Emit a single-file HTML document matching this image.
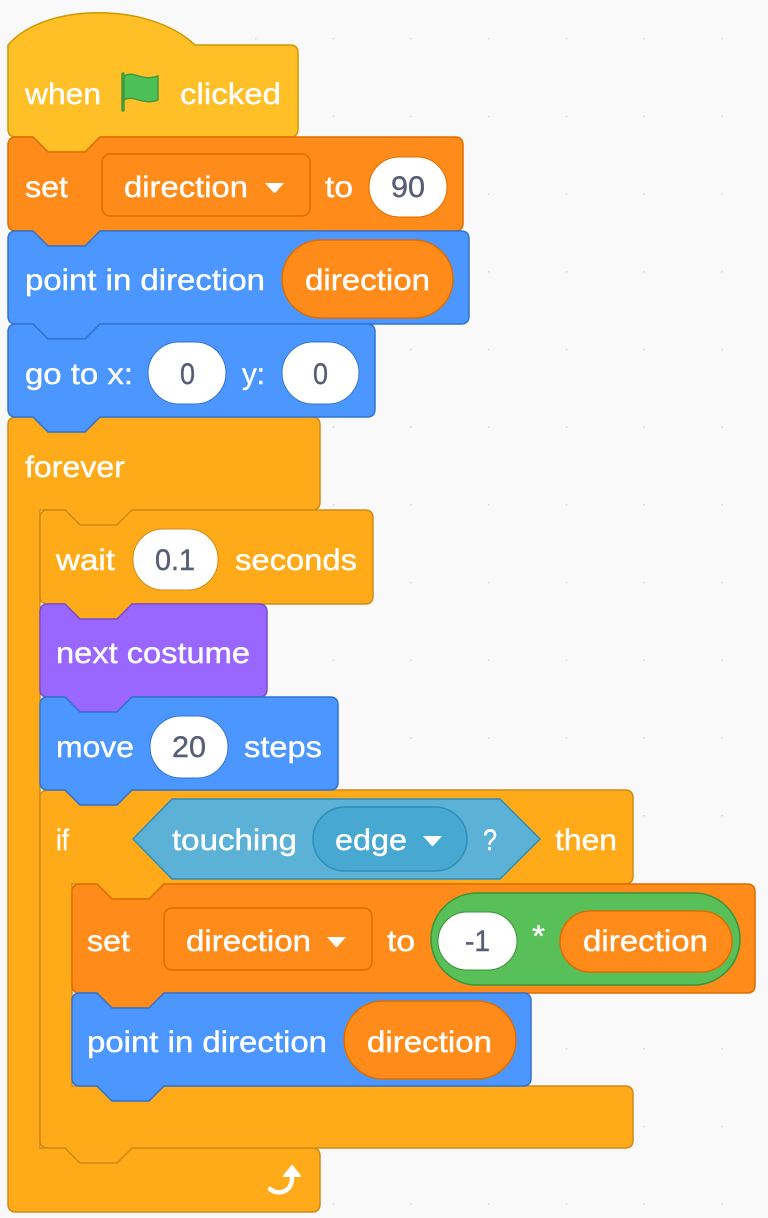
<!DOCTYPE html>
<html><head><meta charset="utf-8"><style>
html,body{margin:0;padding:0;background:#f9f9f9;}
svg{display:block}
text{font-family:"Liberation Sans",Arial,sans-serif;font-size:30px;fill:#fff;stroke:#fff;stroke-width:0.4;}
.d{fill:#575E75;stroke:#575E75}
</style></head><body>
<svg width="768" height="1218" viewBox="0 0 768 1218" xmlns="http://www.w3.org/2000/svg">
<defs>
<pattern id="dots" x="0" y="0" width="77.7" height="77.7" patternUnits="userSpaceOnUse" patternTransform="translate(255,38)">
<circle cx="0" cy="0" r="1.6" fill="#d6d6d6"/></pattern>
</defs>
<rect width="768" height="1218" fill="#f9f9f9"/>
<rect width="768" height="1218" fill="url(#dots)"/>

<!-- forever C -->
<path d="M8,425 Q8,417 16,417 L33,417 L48,432 L85,432 L100,417 L312,417 Q320,417 320,425 L320,502 Q320,510 312,510 L132,510 L117,525 L80,525 L65,510 L40,510 L40,1148 L65,1148 L80,1163 L117,1163 L132,1148 L312,1148 Q320,1148 320,1156 L320,1204 Q320,1212 312,1212 L16,1212 Q8,1212 8,1204 Z" fill="#FFAB19" stroke="#CF8B17" stroke-width="1.5"/>
<!-- if C -->
<path d="M40,798 Q40,790 48,790 L65,790 L80,805 L117,805 L132,790 L625,790 Q633,790 633,798 L633,876 Q633,884 625,884 L164,884 L149,899 L112,899 L97,884 L72,884 L72,1086 L97,1086 L112,1101 L149,1101 L164,1086 L625,1086 Q633,1086 633,1094 L633,1140 Q633,1148 625,1148 L132,1148 L117,1163 L80,1163 L65,1148 L48,1148 Q40,1148 40,1140 Z" fill="#FFAB19" stroke="#CF8B17" stroke-width="1.5"/>

<!-- hat -->
<path d="M8,45 C45,2 150,2 195,45 L290,45 Q298,45 298,53 L298,129 Q298,137 290,137 L100,137 L85,152 L48,152 L33,137 L16,137 Q8,137 8,129 Z" fill="#FFBF26" stroke="#CC9900" stroke-width="1.5"/>
<text x="25" y="104" textLength="76" lengthAdjust="spacingAndGlyphs">when</text>
<path d="M123,74 L123,110" stroke="#45993d" stroke-width="3.5" stroke-linecap="round"/>
<path d="M124,76 C134,70 142,82 158,76 L158,100 C142,106 134,94 124,100 Z" fill="#4cbf56" stroke="#45993d" stroke-width="1.5"/>
<text x="180" y="104" textLength="101" lengthAdjust="spacingAndGlyphs">clicked</text>

<!-- set -->
<path d="M8,145 Q8,137 16,137 L33,137 L48,152 L85,152 L100,137 L455,137 Q463,137 463,145 L463,223 Q463,231 455,231 L100,231 L85,246 L48,246 L33,231 L16,231 Q8,231 8,223 Z" fill="#FF8C1A" stroke="#DB6E00" stroke-width="1.5"/>
<text x="25" y="197" textLength="43" lengthAdjust="spacingAndGlyphs">set</text>
<rect x="102" y="154" width="208" height="62" rx="8" fill="#FF8C1A" stroke="#DB6E00" stroke-width="1.5"/>
<text x="124" y="197" textLength="124" lengthAdjust="spacingAndGlyphs">direction</text>
<path d="M265,183 L284,183 L276,192 Q274.5,194 273,192 Z" fill="#fff"/>
<text x="325" y="197" textLength="28" lengthAdjust="spacingAndGlyphs">to</text>
<rect x="369" y="157" width="78" height="60" rx="30" fill="#fff" stroke="#DB6E00" stroke-width="1"/>
<text class="d" x="391" y="197" textLength="34" lengthAdjust="spacingAndGlyphs">90</text>

<!-- point -->
<path d="M8,239 Q8,231 16,231 L33,231 L48,246 L85,246 L100,231 L461,231 Q469,231 469,239 L469,316 Q469,324 461,324 L100,324 L85,339 L48,339 L33,324 L16,324 Q8,324 8,316 Z" fill="#4C97FF" stroke="#3373CC" stroke-width="1.5"/>
<text x="25" y="290" textLength="240" lengthAdjust="spacingAndGlyphs">point in direction</text>
<rect x="282" y="240" width="171" height="78" rx="39" fill="#FF8C1A" stroke="#DB6E00" stroke-width="1.5"/>
<text x="305" y="290" textLength="125" lengthAdjust="spacingAndGlyphs">direction</text>

<!-- goto -->
<path d="M8,332 Q8,324 16,324 L33,324 L48,339 L85,339 L100,324 L367,324 Q375,324 375,332 L375,409 Q375,417 367,417 L100,417 L85,432 L48,432 L33,417 L16,417 Q8,417 8,409 Z" fill="#4C97FF" stroke="#3373CC" stroke-width="1.5"/>
<text x="25" y="384" textLength="108" lengthAdjust="spacingAndGlyphs">go to x:</text>
<rect x="148" y="342" width="78" height="62" rx="31" fill="#fff" stroke="#3373CC" stroke-width="1"/>
<text class="d" x="180" y="384" textLength="15" lengthAdjust="spacingAndGlyphs">0</text>
<text x="242" y="384" textLength="23" lengthAdjust="spacingAndGlyphs">y:</text>
<rect x="282" y="342" width="77" height="62" rx="31" fill="#fff" stroke="#3373CC" stroke-width="1"/>
<text class="d" x="313" y="384" textLength="15" lengthAdjust="spacingAndGlyphs">0</text>

<text x="25" y="477" textLength="100" lengthAdjust="spacingAndGlyphs">forever</text>

<!-- wait -->
<path d="M40,518 Q40,510 48,510 L65,510 L80,525 L117,525 L132,510 L365,510 Q373,510 373,518 L373,596 Q373,604 365,604 L132,604 L117,619 L80,619 L65,604 L48,604 Q40,604 40,596 Z" fill="#FFAB19" stroke="#CF8B17" stroke-width="1.5"/>
<text x="56" y="570" textLength="59" lengthAdjust="spacingAndGlyphs">wait</text>
<rect x="133" y="529" width="85" height="61" rx="30" fill="#fff" stroke="#CF8B17" stroke-width="1"/>
<text class="d" x="155" y="570" textLength="40" lengthAdjust="spacingAndGlyphs">0.1</text>
<text x="235" y="570" textLength="122" lengthAdjust="spacingAndGlyphs">seconds</text>

<!-- next costume -->
<path d="M40,612 Q40,604 48,604 L65,604 L80,619 L117,619 L132,604 L259,604 Q267,604 267,612 L267,689 Q267,697 259,697 L132,697 L117,712 L80,712 L65,697 L48,697 Q40,697 40,689 Z" fill="#9966FF" stroke="#774DCB" stroke-width="1.5"/>
<text x="56" y="663" textLength="194" lengthAdjust="spacingAndGlyphs">next costume</text>

<!-- move -->
<path d="M40,705 Q40,697 48,697 L65,697 L80,712 L117,712 L132,697 L330,697 Q338,697 338,705 L338,782 Q338,790 330,790 L132,790 L117,805 L80,805 L65,790 L48,790 Q40,790 40,782 Z" fill="#4C97FF" stroke="#3373CC" stroke-width="1.5"/>
<text x="56" y="757" textLength="78" lengthAdjust="spacingAndGlyphs">move</text>
<rect x="150" y="716" width="78" height="62" rx="31" fill="#fff" stroke="#3373CC" stroke-width="1"/>
<text class="d" x="172" y="757" textLength="34" lengthAdjust="spacingAndGlyphs">20</text>
<text x="244" y="757" textLength="78" lengthAdjust="spacingAndGlyphs">steps</text>

<!-- if header -->
<text x="56" y="850" textLength="13" lengthAdjust="spacingAndGlyphs">if</text>
<path d="M133,839 L172,799 L500,799 L540,839 L500,879 L172,879 Z" fill="#5CB1D6" stroke="#2E8EB8" stroke-width="1.5"/>
<text x="172" y="850" textLength="125" lengthAdjust="spacingAndGlyphs">touching</text>
<rect x="313" y="807" width="154" height="64" rx="32" fill="#47A8D1" stroke="#2E8EB8" stroke-width="1.5"/>
<text x="335" y="850" textLength="72" lengthAdjust="spacingAndGlyphs">edge</text>
<path d="M423,836 L442,836 L434,845 Q432.5,847 431,845 Z" fill="#fff"/>
<text x="483" y="850" textLength="14" lengthAdjust="spacingAndGlyphs">?</text>
<text x="555" y="850" textLength="62" lengthAdjust="spacingAndGlyphs">then</text>

<!-- inner set -->
<path d="M72,892 Q72,884 80,884 L97,884 L112,899 L149,899 L164,884 L747,884 Q755,884 755,892 L755,985 Q755,993 747,993 L164,993 L149,1008 L112,1008 L97,993 L80,993 Q72,993 72,985 Z" fill="#FF8C1A" stroke="#DB6E00" stroke-width="1.5"/>
<text x="87" y="951" textLength="43" lengthAdjust="spacingAndGlyphs">set</text>
<rect x="164" y="908" width="208" height="62" rx="8" fill="#FF8C1A" stroke="#DB6E00" stroke-width="1.5"/>
<text x="186" y="951" textLength="125" lengthAdjust="spacingAndGlyphs">direction</text>
<path d="M327,937 L346,937 L338,946 Q336.5,948 335,946 Z" fill="#fff"/>
<text x="387" y="951" textLength="28" lengthAdjust="spacingAndGlyphs">to</text>
<rect x="431" y="893" width="309" height="92" rx="46" fill="#59C059" stroke="#389438" stroke-width="1.5"/>
<rect x="438" y="912" width="79" height="58" rx="29" fill="#fff" stroke="#389438" stroke-width="1"/>
<text class="d" x="465" y="951" textLength="25" lengthAdjust="spacingAndGlyphs">-1</text>
<text x="532" y="946" textLength="13" lengthAdjust="spacingAndGlyphs">*</text>
<rect x="560" y="911" width="172" height="61" rx="30.5" fill="#FF8C1A" stroke="#DB6E00" stroke-width="1.5"/>
<text x="583" y="951" textLength="125" lengthAdjust="spacingAndGlyphs">direction</text>

<!-- inner point -->
<path d="M72,1001 Q72,993 80,993 L97,993 L112,1008 L149,1008 L164,993 L523,993 Q531,993 531,1001 L531,1078 Q531,1086 523,1086 L164,1086 L149,1101 L112,1101 L97,1086 L80,1086 Q72,1086 72,1078 Z" fill="#4C97FF" stroke="#3373CC" stroke-width="1.5"/>
<text x="87" y="1052" textLength="240" lengthAdjust="spacingAndGlyphs">point in direction</text>
<rect x="344" y="1001" width="172" height="78" rx="39" fill="#FF8C1A" stroke="#DB6E00" stroke-width="1.5"/>
<text x="367" y="1052" textLength="125" lengthAdjust="spacingAndGlyphs">direction</text>

<!-- forever arrow -->
<path d="M270,1189 C278,1196 292,1192 292,1178 L292,1174" fill="none" stroke="#fff" stroke-width="4.5" stroke-linecap="round"/>
<path d="M284,1176 L292,1166 L300,1176 Z" fill="#fff" stroke="#fff" stroke-width="2" stroke-linejoin="round"/>
</svg>
</body></html>
